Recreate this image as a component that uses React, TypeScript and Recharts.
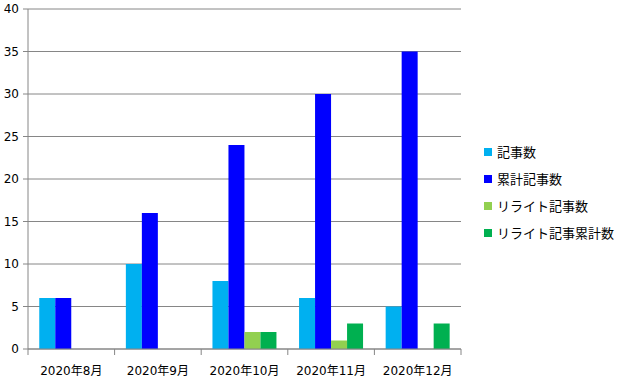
import React from 'react';
import { BarChart, Bar, XAxis, YAxis, CartesianGrid } from 'recharts';

const months = ['2020年8月', '2020年9月', '2020年10月', '2020年11月', '2020年12月'];
const articles = [6, 10, 8, 6, 5];
const totalArticles = [6, 16, 24, 30, 35];
const rewrites = [0, 0, 2, 1, 0];
const totalRewrites = [0, 0, 2, 3, 3];
const yTicks = [0, 5, 10, 15, 20, 25, 30, 35, 40];

const SERIES = [
  { key: 'articles', label: '記事数', color: '#00B0F0' },
  { key: 'totalArticles', label: '累計記事数', color: '#0000FF' },
  { key: 'rewrites', label: 'リライト記事数', color: '#92D050' },
  { key: 'totalRewrites', label: 'リライト記事累計数', color: '#00B050' },
];

const data = months.map((m, i) => ({
  month: m,
  articles: articles[i],
  totalArticles: totalArticles[i],
  rewrites: rewrites[i],
  totalRewrites: totalRewrites[i],
}));

const FONT = '"DejaVu Sans", "Noto Sans CJK JP", sans-serif';
const AXIS_GRAY = '#868686';

// category labels centred, tick marks on the category boundaries
const MonthTick = (props: any) => {
  const { x, y, payload, index, width, visibleTicksCount } = props;
  const band = (width || 433) / (visibleTicksCount || months.length);
  const left = x - band / 2;
  return (
    <g>
      <line x1={left} x2={left} y1={y} y2={y + 6} stroke={AXIS_GRAY} />
      {index === months.length - 1 && (
        <line x1={left + band} x2={left + band} y1={y} y2={y + 6} stroke={AXIS_GRAY} />
      )}
      <text x={x} y={y + 26} textAnchor="middle" fontSize={12} fill="#000" fontFamily={FONT}>
        {payload.value}
      </text>
    </g>
  );
};

const LegendBox = () => (
  <div style={{ fontFamily: FONT, fontSize: 13, color: '#000' }}>
    {SERIES.map(s => (
      <div key={s.key} style={{ display: 'flex', alignItems: 'center', height: 27 }}>
        <span style={{ width: 8, height: 8, background: s.color, display: 'inline-block', marginRight: 5 }} />
        <span>{s.label}</span>
      </div>
    ))}
  </div>
);

export default function App() {
  return (
    <div style={{ position: 'absolute', left: 0, top: 0, width: 619, height: 383, background: '#fff' }}>
      <BarChart
        width={619}
        height={383}
        data={data}
        margin={{ top: 9, right: 158, left: 0, bottom: 0 }}
        barCategoryGap="13%"
        barGap={0}
      >
        <CartesianGrid vertical={false} stroke={AXIS_GRAY} />
        <XAxis
          dataKey="month"
          height={34}
          axisLine={{ stroke: AXIS_GRAY }}
          tickLine={false}
          tickSize={0}
          tickMargin={0}
          tick={(p: any) => <MonthTick {...p} />}
          interval={0}
        />
        <YAxis
          width={28}
          domain={[0, 40]}
          ticks={yTicks}
          interval={0}
          tickSize={5}
          tickMargin={4}
          axisLine={{ stroke: AXIS_GRAY }}
          tickLine={{ stroke: AXIS_GRAY }}
          tick={{ fontSize: 12, fill: '#000', fontFamily: FONT }}
        />
        {SERIES.map(s => (
          <Bar key={s.key} dataKey={s.key} name={s.label} fill={s.color} isAnimationActive={false} />
        ))}
      </BarChart>
      <div style={{ position: 'absolute', left: 484, top: 138 }}>
        <LegendBox />
      </div>
    </div>
  );
}
